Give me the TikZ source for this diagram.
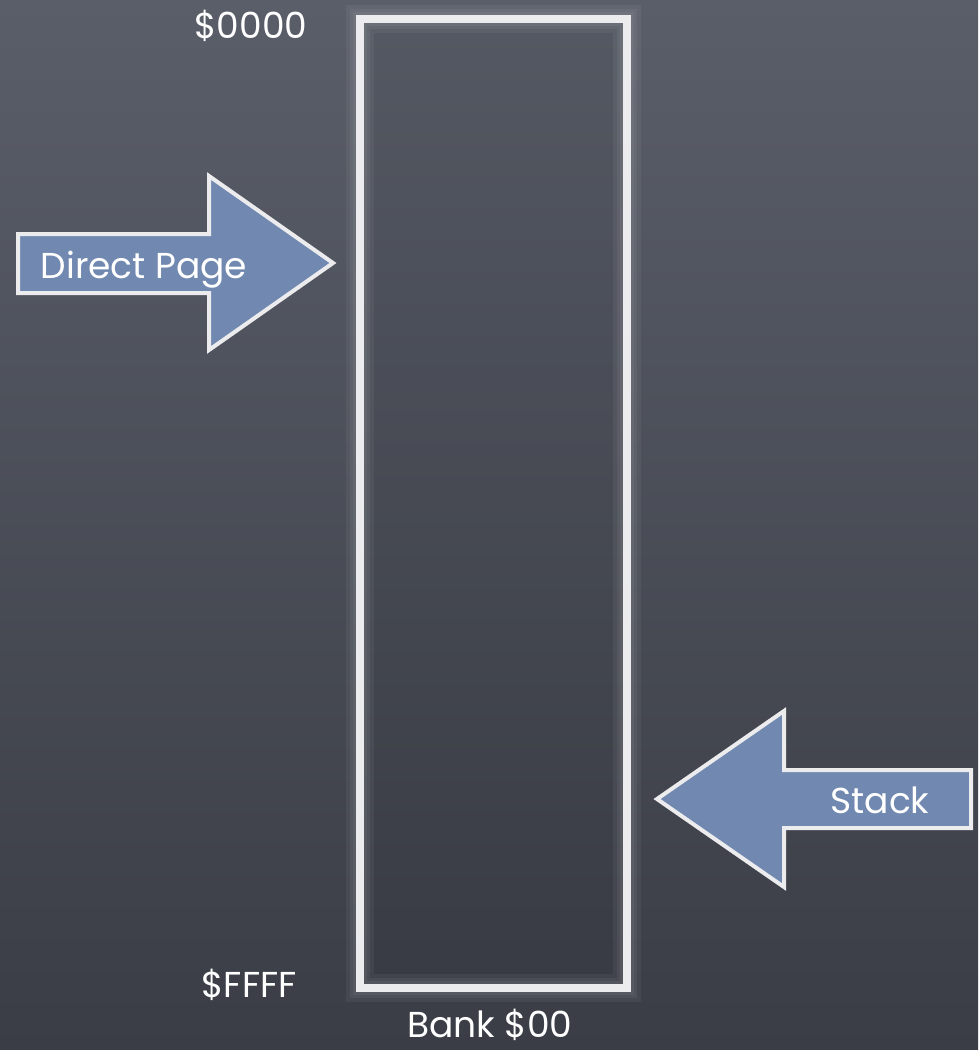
\documentclass[tikz,border=0pt]{standalone}
\usepackage{fontspec}
\setmainfont{Poppins}
\definecolor{bgtop}{HTML}{5A5E69}
\definecolor{bgbot}{HTML}{3A3D45}
\definecolor{arrowfill}{HTML}{7189B0}
\definecolor{edge}{HTML}{ECECEE}
\tikzset{
  arrowshape/.style={fill=arrowfill, draw=edge, line width=4pt, line join=miter},
  label/.style={text=white, font=\fontsize{36}{42}\selectfont, inner sep=0pt, anchor=base},
  bankbox/.style={draw=edge, line width=8pt},
  glow/.style={draw=white, opacity=0.05}
}
\begin{document}
\begin{tikzpicture}[x=1pt,y=-1pt]
\useasboundingbox (0,0) rectangle (978,1050);
\shade[top color=bgtop, bottom color=bgbot] (0,0) rectangle (978,1050);
% memory box
\fill[black, opacity=0.05] (360,19) rectangle (627,988);
\draw[glow, line width=28pt] (360,19) rectangle (627,988);
\draw[glow, line width=20pt] (360,19) rectangle (627,988);
\draw[glow, line width=14pt] (360,19) rectangle (627,988);
\draw[bankbox] (360,19) rectangle (627,988);
% Direct Page arrow
\draw[arrowshape] (18,234) -- (209,234) -- (209,176) -- (333,263) -- (209,350) -- (209,293) -- (18,293) -- cycle;
\node[label] (dp) at (144,278) {Direct Page};
% Stack arrow
\draw[arrowshape] (971,770) -- (784,770) -- (784,711) -- (657,799) -- (784,887) -- (784,828) -- (971,828) -- cycle;
\node[label] (stack) at (880,813) {Stack};
% address labels
\node[label] (top) at (251,38) {\$0000};
\node[label] (bottom) at (249,997) {\$FFFF};
\node[label] (bank) at (490,1037) {Bank \$00};
\end{tikzpicture}
\end{document}
